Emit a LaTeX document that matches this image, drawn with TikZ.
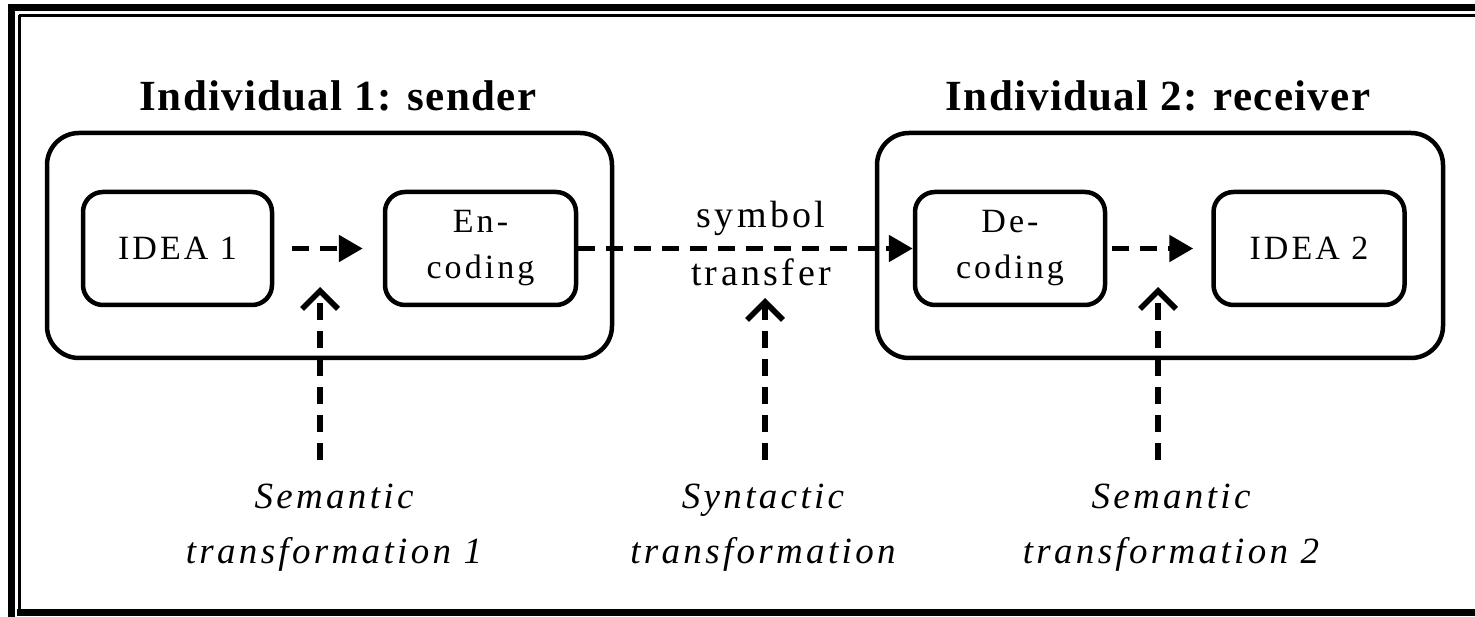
\documentclass[tikz,border=0pt]{standalone}
\usepackage{fontspec}
\setmainfont{Liberation Serif}
\newfontfamily\spacedfont[LetterSpace=9]{Liberation Serif}
\newfontfamily\titlefont[LetterSpace=3]{Liberation Serif}
\usetikzlibrary{arrows.meta}
\tikzset{
  bigbox/.style={draw, line width=4.5pt, rounded corners=32pt, inner sep=0pt},
  smallbox/.style={draw, line width=4.5pt, rounded corners=20pt, inner sep=0pt, minimum height=113pt, align=center, font=\spacedfont\fontsize{34}{46}\selectfont},
  darr/.style={line width=5.5pt, dash pattern=on 17pt off 11pt, -{Triangle[length=24pt,width=26pt]}},
  varr/.style={line width=5.5pt, dash pattern=on 17pt off 11pt, -{Straight Barb[length=18pt,width=36pt]}},
  title/.style={font=\titlefont\bfseries\fontsize{43}{50}\selectfont},
  lab/.style={align=center, font=\spacedfont\itshape\fontsize{37}{55}\selectfont},
}
\begin{document}
\begin{tikzpicture}[x=1pt,y=-1pt]
\useasboundingbox (0,0) rectangle (1475,617);
% frame
\draw[line width=7pt] (11,5) -- (11,617);
\draw[line width=7pt] (8,8) -- (1475,8);
\draw[line width=3pt] (19,15.5) -- (1475,15.5);
\draw[line width=3pt] (19.5,15) -- (19.5,612);
\draw[line width=7pt] (17,612) -- (1475,612);
% big boxes
\node[bigbox, minimum width=565pt, minimum height=225pt] (snd) at (329.5,245.5) {};
\node[bigbox, minimum width=566pt, minimum height=225pt] (rcv) at (1160,245.5) {};
% titles
\node[title] (t1) at (338,96) {Individual 1: sender};
\node[title] (t2) at (1158,96) {Individual 2: receiver};
% inner boxes
\node[smallbox, minimum width=189pt] (idea1) at (177.5,248.5) {IDEA 1};
\node[smallbox, minimum width=191pt] (enc) at (480.5,248.5) {En-\\coding};
\node[smallbox, minimum width=190pt] (dec) at (1010,248.5) {De-\\coding};
\node[smallbox, minimum width=191pt] (idea2) at (1309,248.5) {IDEA 2};
% symbol transfer
\node[align=center, font=\spacedfont\fontsize{38}{58}\selectfont] (sym) at (761,244) {symbol\\transfer};
% horizontal arrows
\draw[darr, shorten <=18pt, shorten >=20pt] (idea1.east) -- (enc.west);
\draw[darr] (enc.east) -- (dec.west);
\draw[darr, shorten <=5pt, shorten >=18pt] (dec.east) -- (idea2.west);
% bottom labels
\node[lab] (l1) at (334,528) {Semantic\\transformation 1};
\node[lab] (l2) at (763,528) {Syntactic\\transformation};
\node[lab] (l3) at (1171,528) {Semantic\\transformation 2};
% vertical arrows
\coordinate (b1) at (320,460);
\coordinate (a1) at (320,287);
\coordinate (b2) at (765,460);
\coordinate (a2) at (765,298);
\coordinate (b3) at (1158,460);
\coordinate (a3) at (1158,287);
\draw[varr] (b1) -- (a1);
\draw[varr] (b2) -- (a2);
\draw[varr] (b3) -- (a3);
\end{tikzpicture}
\end{document}
